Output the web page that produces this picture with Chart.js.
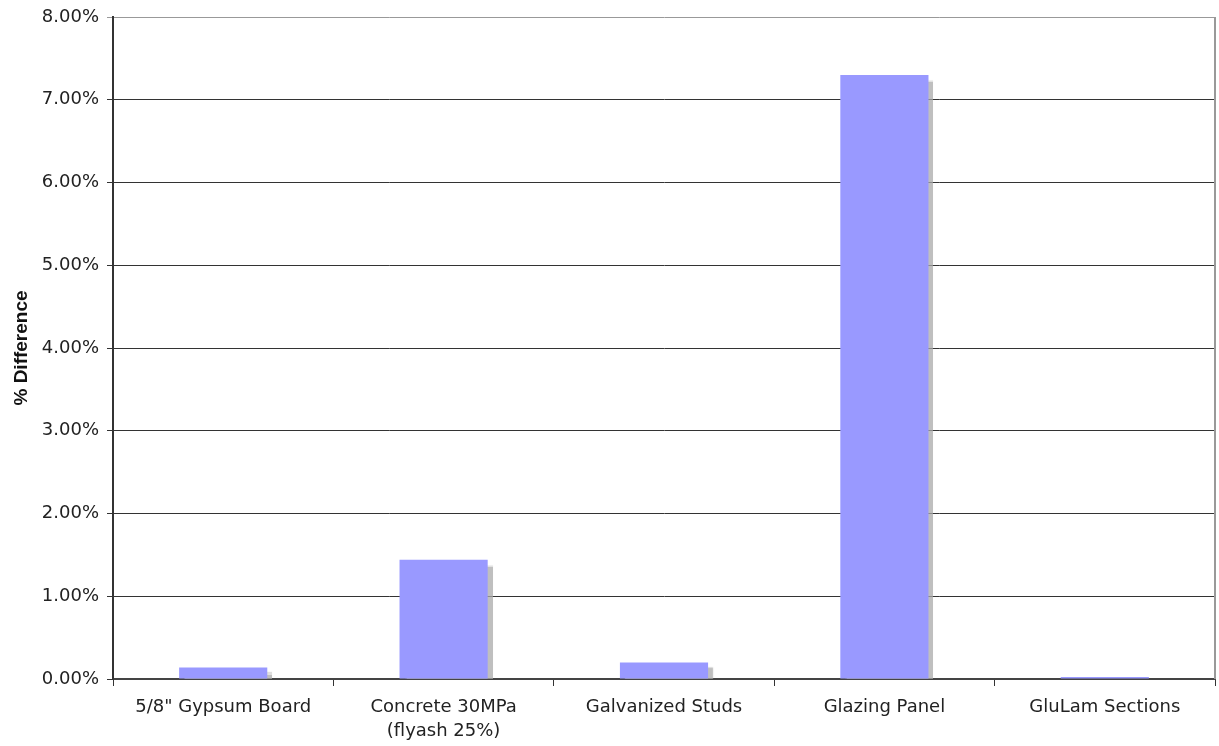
<!DOCTYPE html>
<html>
<head>
<meta charset="utf-8">
<script src="https://cdn.jsdelivr.net/npm/chart.js@4/dist/chart.umd.min.js"></script>
<style>
  html, body { margin: 0; padding: 0; background: #fff; }
  #wrap { width: 1219px; height: 746px; position: relative; }
</style>
</head>
<body>
<div id="wrap"><canvas id="graficoDiferenca"></canvas></div>
<script>
// materiais e diferença percentual
const materiais = [
  "5/8\" Gypsum Board",
  ["Concrete 30MPa", "(flyash 25%)"],
  "Galvanized Studs",
  "Glazing Panel",
  "GluLam Sections",
];
const diferencas = [0.14, 1.44, 0.2, 7.3, 0.02];
const ticksY = [0, 1, 2, 3, 4, 5, 6, 7, 8];

// sombra cinza atrás das barras
const sombraBarras = {
  id: "sombraBarras",
  beforeDatasetsDraw(chart) {
    const ctx = chart.ctx;
    ctx.save();
    ctx.shadowColor = "rgba(170,170,170,0.75)";
    ctx.shadowOffsetX = 5;
    ctx.shadowOffsetY = 5;
    ctx.shadowBlur = 1;
  },
  afterDatasetsDraw(chart) {
    chart.ctx.restore();
  },
};

// borda direita da área do gráfico
const bordaDireita = {
  id: "bordaDireita",
  afterDraw(chart) {
    const { ctx, chartArea } = chart;
    ctx.save();
    ctx.strokeStyle = "#999";
    ctx.lineWidth = 2;
    ctx.beginPath();
    ctx.moveTo(chartArea.right, chartArea.top);
    ctx.lineTo(chartArea.right, chartArea.bottom);
    ctx.stroke();
    ctx.restore();
  },
};

new Chart(document.getElementById("graficoDiferenca"), {
  type: "bar",
  data: {
    labels: materiais,
    datasets: [
      {
        data: diferencas,
        backgroundColor: "#9999ff",
        borderWidth: 0,
        categoryPercentage: 1,
        barPercentage: 0.4,
        minBarLength: 2,
      },
    ],
  },
  options: {
    responsive: true,
    maintainAspectRatio: false,
    animation: false,
    layout: { padding: { top: 12, right: 4, left: 0, bottom: 0 } },
    plugins: {
      legend: { display: false },
      tooltip: { enabled: false },
    },
    scales: {
      x: {
        grid: {
          offset: true,
          drawOnChartArea: false,
          color: "#333",
          tickLength: 7,
        },
        border: { color: "#444", width: 2 },
        ticks: {
          color: "#222",
          font: { family: "DejaVu Sans", size: 18, lineHeight: 1.3 },
          padding: 10,
          maxRotation: 0,
          autoSkip: false,
        },
        afterFit: (scale) => {
          scale.height = 67;
        },
      },
      y: {
        min: 0,
        max: 8,
        afterBuildTicks: (scale) => {
          scale.ticks = ticksY.map((v) => ({ value: v }));
        },
        grid: {
          color: (c) => (c.tick && c.tick.value === 8 ? "#999" : "#333"),
          tickLength: 6,
        },
        border: { color: "#333", width: 2 },
        ticks: {
          color: "#222",
          font: { family: "DejaVu Sans", size: 18, lineHeight: 1.0 },
          padding: 8,
          callback: (value) => value.toFixed(2) + "%",
        },
        title: {
          display: true,
          text: "% Difference",
          color: "#111",
          font: { family: "Liberation Sans", size: 19, weight: "bold" },
          padding: { top: 10, bottom: 6 },
        },
        afterFit: (scale) => {
          scale.width = 113;
        },
      },
    },
  },
  plugins: [sombraBarras, bordaDireita],
});
</script>
</body>
</html>
